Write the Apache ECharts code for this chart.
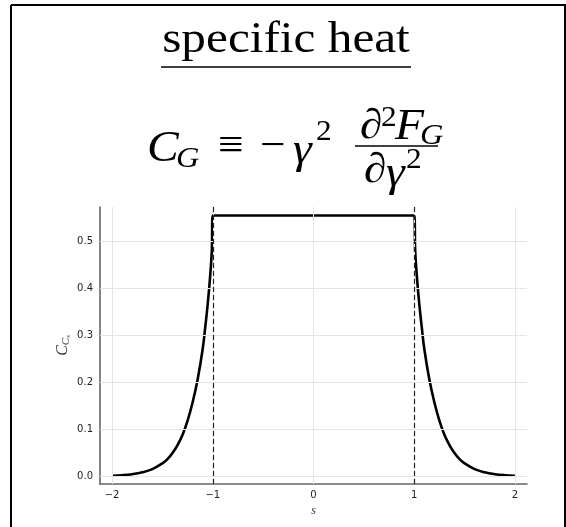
<!DOCTYPE html>
<html>
<head>
<meta charset="utf-8">
<script src="https://cdn.jsdelivr.net/npm/echarts@6/dist/echarts.min.js"></script>
<style>
  html, body { margin: 0; padding: 0; background: #ffffff; }
  #chart { width: 566px; height: 527px; }
</style>
</head>
<body>
<div id="chart"></div>
<script>
// Specific heat C versus s: exponential tails outside |s| > 1, flat plateau inside.
const sValues = [
  -2.0, -1.9, -1.8, -1.7, -1.6, -1.5, -1.45, -1.4, -1.35, -1.3, -1.25, -1.2,
  -1.15, -1.1, -1.075, -1.05, -1.025, -1.01, -1.0,
  1.0, 1.01, 1.025, 1.05, 1.075, 1.1, 1.15, 1.2, 1.25, 1.3, 1.35, 1.4,
  1.45, 1.5, 1.6, 1.7, 1.8, 1.9, 2.0
];
const cValues = [
  0.0015, 0.0027, 0.0049, 0.0088, 0.0157, 0.028, 0.037, 0.050, 0.067, 0.089, 0.119, 0.158,
  0.207, 0.272, 0.318, 0.368, 0.43, 0.48, 0.556,
  0.556, 0.48, 0.43, 0.368, 0.318, 0.272, 0.207, 0.158, 0.119, 0.089, 0.067, 0.050,
  0.037, 0.028, 0.0157, 0.0088, 0.0049, 0.0027, 0.0015
];
const criticalS = [-1, 1];
const xTicks = [-2, -1, 0, 1, 2];
const yTicks = [0.0, 0.1, 0.2, 0.3, 0.4, 0.5];
const xRange = [-2.12, 2.12];
const yRange = [-0.016, 0.574];

const chart = echarts.init(document.getElementById('chart'), null, { renderer: 'canvas' });

const curve = sValues.map((s, i) => [s, cValues[i]]);
const minus = v => String(v).replace('-', '\u2212');
const tickFont = { fontFamily: 'DejaVu Sans', fontSize: 10, color: '#222222' };
const serif = 'Liberation Serif';
const gridColor = '#e5e5e5';

// Formula layout: fraction-bar height and horizontal extent
const bar = 146, barX = [355, 438];
// [text, x, dy from bar, fontSize, italic]
const formulaParts = [
  ['C', 147, 3, 44, true],
  ['G', 176, 13, 30, true],
  ['\u2261', 218, 1, 42, false],
  ['\u2212', 260, 1, 42, false],
  ['\u03b3', 293, 5, 44, true],
  ['2', 316, -14, 29, false],
  ['\u2202', 360, -19, 42, false],
  ['2', 381, -28, 29, false],
  ['F', 395, -19, 44, true],
  ['G', 420, -10, 30, true],
  ['\u2202', 364, 25, 42, false],
  ['\u03b3', 386, 28, 44, true],
  ['2', 406, 14, 29, false]
];

const graphics = [
  // frame
  { type: 'line', shape: { x1: 11, y1: 5, x2: 566, y2: 5 }, style: { stroke: '#000', lineWidth: 2 } },
  { type: 'line', shape: { x1: 11, y1: 5, x2: 11, y2: 527 }, style: { stroke: '#000', lineWidth: 2 } },
  { type: 'line', shape: { x1: 565, y1: 5, x2: 565, y2: 527 }, style: { stroke: '#000', lineWidth: 2 } },
  // title
  { type: 'text', x: 286, y: 40, scaleX: 1.12, style: { text: 'specific heat', fontFamily: serif, fontSize: 44,
      fill: '#000', textAlign: 'center', textVerticalAlign: 'middle' } },
  { type: 'line', shape: { x1: 161, y1: 67, x2: 411, y2: 67 }, style: { stroke: '#000', lineWidth: 1.6 } },
  // fraction bar
  { type: 'line', shape: { x1: barX[0], y1: bar, x2: barX[1], y2: bar }, style: { stroke: '#000', lineWidth: 1.6 } }
];
formulaParts.forEach(p => {
  graphics.push({ type: 'text', x: p[1], y: bar + p[2], scaleX: 1.08, style: {
    text: p[0], fontFamily: serif, fontSize: p[3], fontStyle: p[4] ? 'italic' : 'normal',
    fill: '#000', textAlign: 'left', textVerticalAlign: 'middle' } });
});

const option = {
  animation: false,
  backgroundColor: '#ffffff',
  grid: { left: 100, right: 39, top: 207, bottom: 43, containLabel: false },
  xAxis: {
    type: 'value', min: xRange[0], max: xRange[1],
    name: 's', nameLocation: 'middle', nameGap: 18,
    nameTextStyle: { fontFamily: serif, fontStyle: 'italic', fontSize: 12, color: '#333' },
    axisLine: { show: true, onZero: false, lineStyle: { color: '#666', width: 1.6 } },
    axisTick: { show: true, inside: true, length: 3, customValues: xTicks, lineStyle: { color: '#222', width: 1 } },
    axisLabel: { customValues: xTicks, formatter: minus, margin: 6, ...tickFont },
    splitLine: { show: false }
  },
  yAxis: {
    type: 'value', min: yRange[0], max: yRange[1],
    name: '{c|C}{s|C}{ss|s}', nameLocation: 'middle', nameGap: 28, nameRotate: 90,
    nameMoveOverlap: false,
    nameTextStyle: {
      color: '#333',
      rich: {
        c: { fontFamily: serif, fontStyle: 'italic', fontSize: 16, color: '#333' },
        s: { fontFamily: serif, fontStyle: 'italic', fontSize: 11, color: '#333', verticalAlign: 'bottom', padding: [8, 0, 0, 0] },
        ss: { fontFamily: serif, fontStyle: 'italic', fontSize: 7, color: '#333', verticalAlign: 'bottom', padding: [12, 0, 0, 0] }
      }
    },
    axisLine: { show: true, onZero: false, lineStyle: { color: '#666', width: 1.6 } },
    axisTick: { show: true, inside: true, length: 3, customValues: yTicks, lineStyle: { color: '#222', width: 1 } },
    axisLabel: { customValues: yTicks, formatter: v => v.toFixed(1), margin: 7, ...tickFont },
    splitLine: { show: false }
  },
  graphic: graphics,
  series: [
    {
      // grid lines at the tick positions
      type: 'line', data: [], z: 1, silent: true,
      markLine: {
        silent: true, symbol: 'none', animation: false,
        label: { show: false },
        lineStyle: { color: gridColor, width: 1, type: 'solid' },
        data: xTicks.map(v => ({ xAxis: v })).concat(yTicks.map(v => ({ yAxis: v })))
      }
    },
    {
      // critical points
      type: 'line', data: [], z: 3, silent: true,
      markLine: {
        silent: true, symbol: 'none', animation: false,
        label: { show: false },
        lineStyle: { color: '#222', width: 1.2, type: [5, 3] },
        data: criticalS.map(v => ({ xAxis: v }))
      }
    },
    {
      type: 'line', data: curve, z: 4,
      showSymbol: false, smooth: 0.4,
      lineStyle: { color: '#000', width: 2.6 }
    }
  ]
};
chart.setOption(option);
</script>
</body>
</html>
